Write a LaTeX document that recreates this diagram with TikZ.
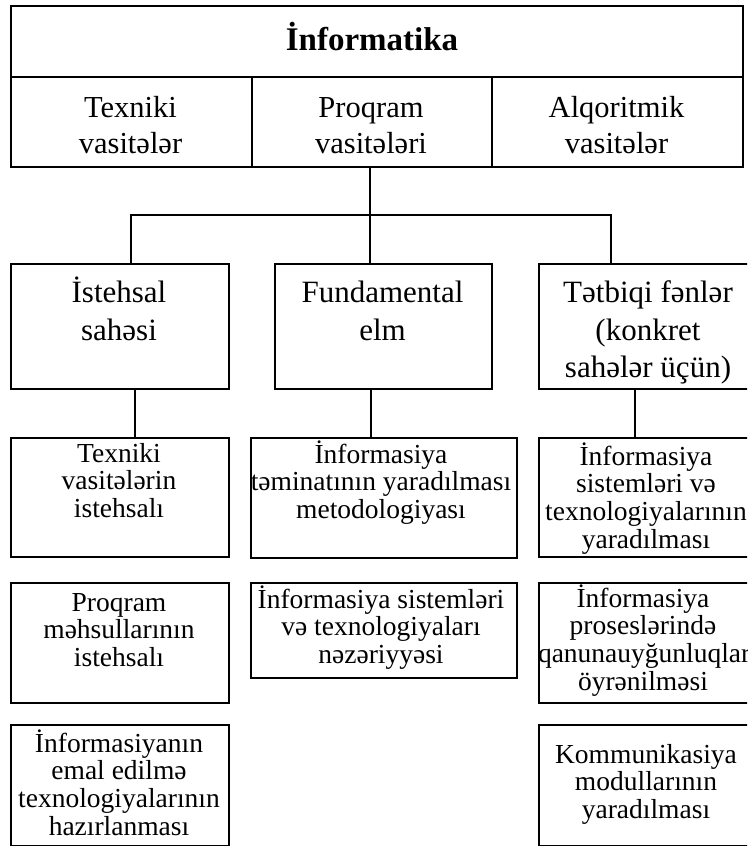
\documentclass[tikz,border=0pt]{standalone}
\usepackage{fontspec}
\setmainfont{Liberation Serif}
\newcommand\mlines[2]{\vtop{\baselineskip=#1\lineskiplimit=-1000pt\lineskip=0pt\tabskip=0pt\relax\halign{\hfil##\hfil\cr#2\crcr}}}
\begin{document}
\begin{tikzpicture}[x=1pt,y=-1pt,
  box/.style={draw, line width=1.7pt, inner sep=0pt, anchor=north west},
  lbl/.style={anchor=base, inner sep=0pt},
  ftitle/.style={font=\fontsize{33}{36}\selectfont\bfseries},
  fone/.style={font=\fontsize{30.5}{36}\selectfont},
  ftwo/.style={font=\fontsize{31}{37.5}\selectfont},
  fthree/.style={font=\fontsize{27.5}{27.7}\selectfont},
  conn/.style={draw, line width=1.7pt}]
\fill[white] (0,0) rectangle (747,846);
\clip (0,0) rectangle (747,846);
% top block
\node[box, minimum width=732pt, minimum height=71pt] (title) at (10,5) {};
\node[lbl, ftitle] (titletxt) at (372,50) {İnformatika};
\node[box, minimum width=241pt, minimum height=90pt] (tex) at (10,76) {};
\node[box, minimum width=240pt, minimum height=90pt] (prog) at (251,76) {};
\node[box, minimum width=251pt, minimum height=90pt] (alq) at (491,76) {};
\node[lbl, fone] (textxt) at (130.5,117) {\mlines{36pt}{Texniki\cr vasitələr}};
\node[lbl, fone] (progtxt) at (371,117) {\mlines{36pt}{Proqram\cr vasitələri}};
\node[lbl, fone] (alqtxt) at (616.5,117) {\mlines{36pt}{Alqoritmik\cr vasitələr}};
% level 2
\node[box, minimum width=218pt, minimum height=125pt] (ist) at (10,263) {};
\node[box, minimum width=217pt, minimum height=125pt] (fund) at (274,263) {};
\node[box, minimum width=220pt, minimum height=125pt] (tatb) at (538,263) {};
\node[lbl, ftwo] (isttxt) at (119,302.5) {\mlines{37.5pt}{İstehsal\cr sahəsi}};
\node[lbl, ftwo] (fundtxt) at (382.5,302.5) {\mlines{37.5pt}{Fundamental\cr elm}};
\node[lbl, ftwo] (tatbtxt) at (648,302.5) {\mlines{37.5pt}{Tətbiqi fənlər\cr (konkret\cr sahələr üçün)}};
% connectors top -> level 2
\coordinate (hub) at (370,215);
\coordinate (hl) at (131,215);
\coordinate (hr) at (611,215);
\draw[conn] (prog.south -| hub) -- (hub);
\draw[conn] (hl |- ist.north) -- (hl) -- (hr) -- (hr |- tatb.north);
\draw[conn] (hub) -- (hub |- fund.north);
% level 3
\node[box, minimum width=218pt, minimum height=119pt] (a1) at (10,437) {};
\node[box, minimum width=266pt, minimum height=120pt] (b1) at (250,437) {};
\node[box, minimum width=218pt, minimum height=119pt] (c1) at (538,437) {};
\node[box, minimum width=218pt, minimum height=120pt] (a2) at (10,582) {};
\node[box, minimum width=266pt, minimum height=95pt] (b2) at (250,582) {};
\node[box, minimum width=218pt, minimum height=120pt] (c2) at (538,582) {};
\node[box, minimum width=218pt, minimum height=121pt] (a3) at (10,724) {};
\node[box, minimum width=218pt, minimum height=121pt] (c3) at (538,724) {};
\node[lbl, fthree] (a1txt) at (119,462) {\mlines{27.7pt}{Texniki\cr vasitələrin\cr istehsalı}};
\node[lbl, fthree] (b1txt) at (381,463) {\mlines{27.7pt}{İnformasiya\cr təminatının yaradılması\cr metodologiyası}};
\node[lbl, fthree] (c1txt) at (646,465) {\mlines{27.7pt}{İnformasiya\cr sistemləri və\cr texnologiyalarının\cr yaradılması}};
\node[lbl, fthree] (a2txt) at (119,611) {\mlines{27.7pt}{Proqram\cr məhsullarının\cr istehsalı}};
\node[lbl, fthree] (b2txt) at (381,608) {\mlines{27.7pt}{İnformasiya sistemləri\cr və texnologiyaları\cr nəzəriyyəsi}};
\node[lbl, fthree] (c2txt) at (643,607) {\mlines{27.7pt}{İnformasiya\cr proseslərində\cr \hbox to 0pt{\kern-105pt qanunauyğunluqlarının\hss}\cr öyrənilməsi}};
\node[lbl, fthree] (a3txt) at (119,752) {\mlines{27.7pt}{İnformasiyanın\cr emal edilmə\cr texnologiyalarının\cr hazırlanması}};
\node[lbl, fthree] (c3txt) at (646,763) {\mlines{27.7pt}{Kommunikasiya\cr modullarının\cr yaradılması}};
% connectors level 2 -> level 3
\draw[conn] (ist.south -| 135,0) -- (a1.north -| 135,0);
\draw[conn] (fund.south -| 371,0) -- (b1.north -| 371,0);
\draw[conn] (tatb.south -| 635,0) -- (c1.north -| 635,0);
\end{tikzpicture}
\end{document}
